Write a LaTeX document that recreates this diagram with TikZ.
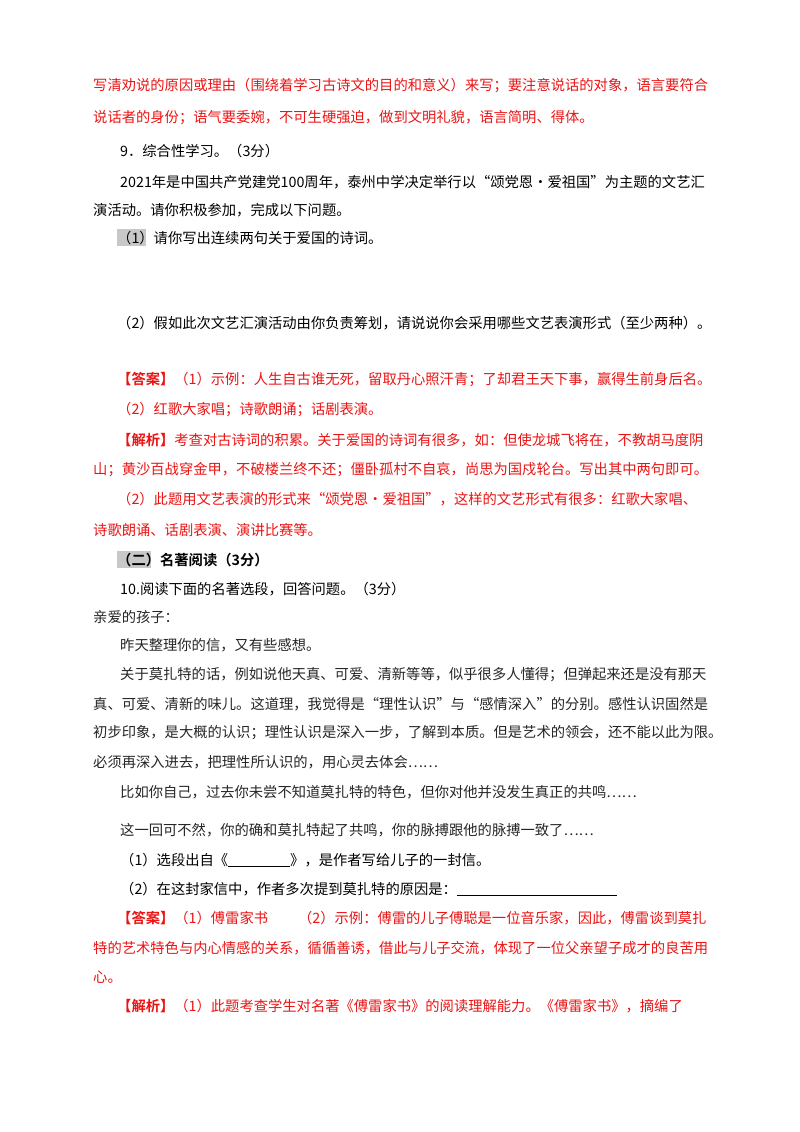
\documentclass[tikz,border=0pt]{standalone}
\usepackage{fontspec}
\setmainfont{Noto Sans CJK SC}
\newfontfamily\cjkbold{Noto Sans CJK SC Bold}
\definecolor{ansred}{RGB}{235,20,20}
\definecolor{hlgray}{RGB}{200,200,200}
\begin{document}
\begin{tikzpicture}[x=1pt,y=-1pt,
  txt/.style={anchor=west,inner sep=0pt,font=\fontsize{14.3}{16}\selectfont},
  red/.style={txt,text=ansred},
  letter/.style={txt,text=black!85}]
\useasboundingbox[fill=white] (0,0) rectangle (800,1132);

% highlight boxes
\fill[hlgray] (117,229) rectangle (146,246);
\fill[hlgray] (117,551) rectangle (151,568);

\node[red] (l1) at (93,86) {写清劝说的原因或理由（围绕着学习古诗文的目的和意义）来写；要注意说话的对象，语言要符合};
\node[red] (l2) at (93,118) {说话者的身份；语气要委婉，不可生硬强迫，做到文明礼貌，语言简明、得体。};
\node[txt] (q9) at (120,151) {9．综合性学习。（3分）};
\node[txt] (p1) at (120,182) {2021年是中国共产党建党100周年，泰州中学决定举行以“颂党恩·爱祖国”为主题的文艺汇};
\node[txt] (p2) at (93,210) {演活动。请你积极参加，完成以下问题。};
\node[txt] (s1) at (117,238) {（1）请你写出连续两句关于爱国的诗词。};
\node[txt] (s2) at (117,323) {（2）假如此次文艺汇演活动由你负责筹划，请说说你会采用哪些文艺表演形式（至少两种）。};

%answer 9
\node[red] (a1) at (117,380) {{\cjkbold【答案】}（1）示例：人生自古谁无死，留取丹心照汗青；了却君王天下事，赢得生前身后名。};
\node[red] (a2) at (117,410) {（2）红歌大家唱；诗歌朗诵；话剧表演。};
\node[red] (j1) at (117,440) {{\cjkbold【解析】}考查对古诗词的积累。关于爱国的诗词有很多，如：但使龙城飞将在，不教胡马度阴};
\node[red] (j2) at (93,470) {山；黄沙百战穿金甲，不破楼兰终不还；僵卧孤村不自哀，尚思为国戍轮台。写出其中两句即可。};
\node[red] (j3) at (117,499) {（2）此题用文艺表演的形式来“颂党恩·爱祖国”，这样的文艺形式有很多：红歌大家唱、};
\node[red] (j4) at (93,530) {诗歌朗诵、话剧表演、演讲比赛等。};

%section two
\node[txt,font=\fontsize{14.3}{16}\cjkbold] (sec2) at (117,560) {（二）名著阅读（3分）};
\node[txt] (q10) at (120,589) {10.阅读下面的名著选段，回答问题。（3分）};
\node[letter] (m0) at (93,617) {亲爱的孩子：};
\node[letter] (m1) at (120,645) {昨天整理你的信，又有些感想。};
\node[letter] (m2) at (120,675) {关于莫扎特的话，例如说他天真、可爱、清新等等，似乎很多人懂得；但弹起来还是没有那天};
\node[letter] (m3) at (93,704) {真、可爱、清新的味儿。这道理，我觉得是“理性认识”与“感情深入”的分别。感性认识固然是};
\node[letter] (m4) at (93,733) {初步印象，是大概的认识；理性认识是深入一步，了解到本质。但是艺术的领会，还不能以此为限。};
\node[letter] (m5) at (93,762) {必须再深入进去，把理性所认识的，用心灵去体会……};
\node[letter] (m6) at (120,792) {比如你自己，过去你未尝不知道莫扎特的特色，但你对他并没发生真正的共鸣……};
\node[letter] (m7) at (120,830) {这一回可不然，你的确和莫扎特起了共鸣，你的脉搏跟他的脉搏一致了……};
\node[txt] (t1) at (120,860) {（1）选段出自《\underline{\hspace{62pt}}》，是作者写给儿子的一封信。};
\node[txt] (t2) at (120,889) {（2）在这封家信中，作者多次提到莫扎特的原因是：\underline{\hspace{160pt}}};

%answer 10
\node[red] (b1) at (117,918) {{\cjkbold【答案】}（1）傅雷家书\hspace{30pt}（2）示例：傅雷的儿子傅聪是一位音乐家，因此，傅雷谈到莫扎};
\node[red] (b2) at (93,948) {特的艺术特色与内心情感的关系，循循善诱，借此与儿子交流，体现了一位父亲望子成才的良苦用};
\node[red] (b3) at (93,977) {心。};
\node[red] (k1) at (117,1006) {{\cjkbold【解析】}（1）此题考查学生对名著《傅雷家书》的阅读理解能力。《傅雷家书》，摘编了};
\end{tikzpicture}
\end{document}
